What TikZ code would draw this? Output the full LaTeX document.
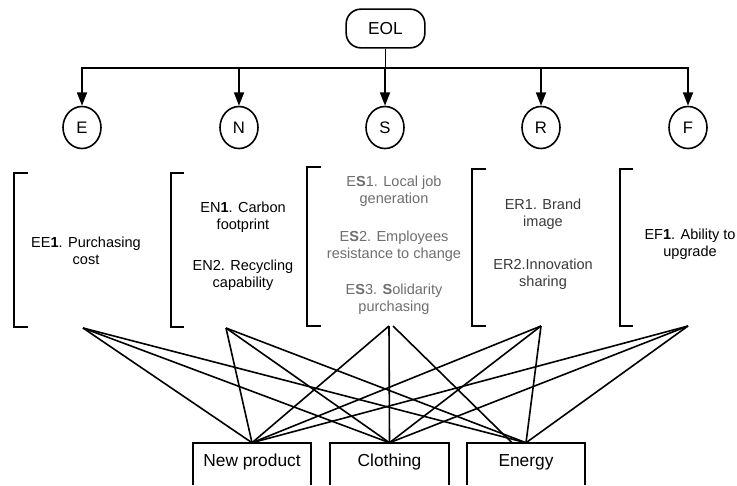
\documentclass[tikz,border=0pt]{standalone}
\usepackage{fontspec}
\setmainfont{Liberation Sans}
\usetikzlibrary{arrows.meta,calc,shapes.geometric}
\definecolor{sgray}{HTML}{6E6E6E}
\definecolor{rgray}{HTML}{3A3A3A}
\begin{document}
\begin{tikzpicture}[x=0.75pt,y=-0.75pt,
  every node/.style={inner sep=0pt, align=center},
  topbox/.style={draw, rounded corners=11pt, minimum width=59pt, minimum height=29pt,
    line width=1.2pt, font=\fontsize{13}{15}\selectfont},
  dimnode/.style={draw, ellipse, minimum width=28.5pt, minimum height=31.5pt,
    line width=1.2pt, font=\fontsize{12.5}{14}\selectfont},
  item/.style={font=\fontsize{10.9}{12.6}\selectfont},
  altbox/.style={minimum width=88.5pt, minimum height=28.5pt, font=\fontsize{13}{15}\selectfont},
  edge/.style={line width=1.3pt},
  arr/.style={line width=1.3pt, -{Triangle[length=10pt,width=7.5pt]}},
  brk/.style={line width=1.5pt},
  link/.style={line width=1.2pt}
]
\useasboundingbox (0,0) rectangle (737,485);
\coordinate (bot) at (0,485);
\coordinate (bar) at (385,68);

% top
\node[topbox] (eol) at (385.5,28.5) {EOL};
\node[dimnode] (E) at (82,127.5) {E};
\node[dimnode] (N) at (239,127.5) {N};
\node[dimnode] (S) at (385,127.5) {S};
\node[dimnode] (R) at (541,127.5) {R};
\node[dimnode] (F) at (688,127.5) {F};

\draw[edge] (eol.south) -- (eol.south |- bar);
\draw[edge, line cap=rect] (E.north |- bar) -- (F.north |- bar);
\foreach \d in {E,N,S,R,F} \draw[arr] (\d.north |- bar) -- (\d.north);

% brackets
\draw[brk] (28,173) -| (14,327) -- (28,327);
\draw[brk] (184,173) -| (171,327) -- (184,327);
\draw[brk] (321,167) -| (307,326) -- (321,326);
\draw[brk] (486,169) -| (472,326) -- (486,326);
\draw[brk] (633,169) -| (620,326) -- (633,326);

% criteria
\node[item] (ee1) at (86,250.5) {EE\textbf{1}. Purchasing\\cost};
\node[item] (en1) at (243,217) {EN\textbf{1}. Carbon\\footprint};
\node[item] (en2) at (243,275.5) {EN2. Recycling\\capability};
\node[item, text=sgray] (es1) at (394,191.5) {E\textbf{S}1. Local job\\generation};
\node[item, text=sgray] (es2) at (394,246) {E\textbf{S}2. Employees\\resistance to change};
\node[item, text=sgray] (es3) at (394,299.5) {E\textbf{S}3. \textbf{S}olidarity\\purchasing};
\node[item, text=rgray] (er1) at (543,214.5) {ER1. Brand\\image};
\node[item, text=rgray] (er2) at (543,274) {ER2.Innovation\\sharing};
\node[item] (ef1) at (690,244.5) {EF\textbf{1}. Ability to\\upgrade};

% alternatives
\node[altbox] (np) at (252,462) {New product};
\node[altbox] (cl) at (389.5,462) {Clothing};
\node[altbox] (en) at (526,462) {Energy};
\foreach \b in {np,cl,en}
  \draw[link] (\b.north west |- bot) -- (\b.north west) -- (\b.north east) -- (\b.north east |- bot);

% apex points
\coordinate (aE) at (83,328);
\coordinate (aN) at (226,328);
\coordinate (aS) at (389,326);
\coordinate (aS2) at (393,326);
\coordinate (aR) at (541,326);
\coordinate (aF) at (688,326);
\coordinate (enS) at ($(en.north)+(-14,0)$);

\foreach \a in {aE,aN,aR,aF}
  \foreach \b in {np,cl,en}
    \draw[link] (\a) -- (\b.north);
\draw[link] (aS) -- (np.north);
\draw[link] (aS) -- (cl.north);
\draw[link] (aS2) -- (enS);
\end{tikzpicture}
\end{document}
